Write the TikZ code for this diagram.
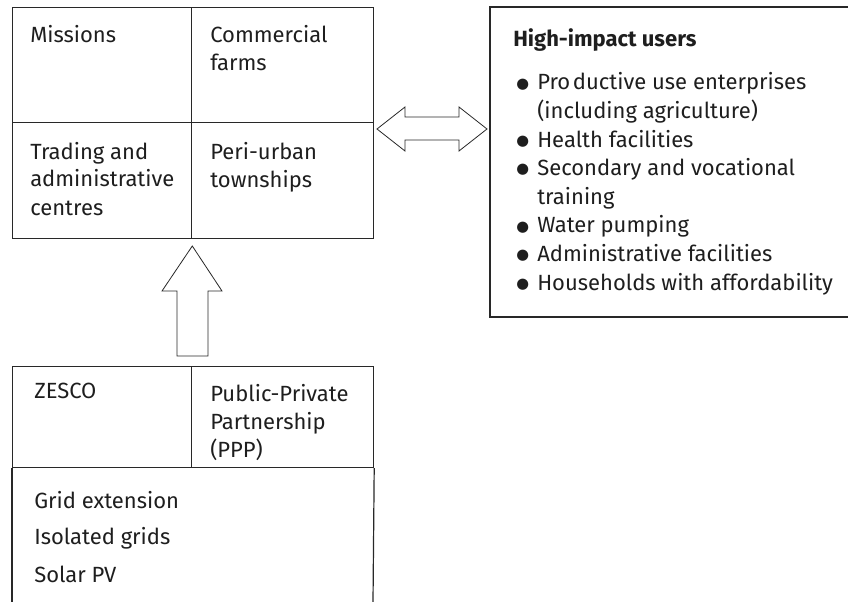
\documentclass[tikz,border=0pt]{standalone}
\usepackage{fontspec}
\setmainfont{Fira Sans}
\newfontfamily\dotfont{DejaVu Sans}
\usepackage{xcolor}
\usetikzlibrary{positioning, calc}
\definecolor{ink}{RGB}{30,30,30}
\definecolor{rulegrey}{RGB}{40,40,40}
\newcommand{\bul}{\makebox[15.75pt][l]{\raisebox{1.3pt}{\dotfont\fontsize{11}{11}\selectfont ●}}}
\begin{document}
\begin{tikzpicture}[
    x=0.75pt, y=-0.75pt,
    cell/.style={draw=rulegrey, line width=0.9pt, anchor=north west, inner sep=0pt},
    txt/.style={anchor=base west, inner sep=0pt, align=left, text=ink,
                font=\fontsize{16.5}{21}\selectfont},
    hdr/.style={txt, font=\fontsize{16.5}{21}\selectfont\bfseries},
    lst/.style={txt, font=\fontsize{16.5}{21.45}\selectfont},
    blk/.style={draw=rulegrey, line width=0.6pt, fill=white, line join=miter},
    rl/.style={draw=rulegrey, line width=0.9pt}
  ]
  \useasboundingbox (0,0) rectangle (848,602);
  % ---------------- settlements ----------------
  \node[cell, minimum width=179*0.75pt, minimum height=115*0.75pt] (mis) at (12,7) {};
  \node[cell, minimum width=182*0.75pt, minimum height=115*0.75pt] (farm) at (191,7) {};
  \node[cell, minimum width=179*0.75pt, minimum height=116*0.75pt] (trad) at (12,122) {};
  \node[cell, minimum width=182*0.75pt, minimum height=116*0.75pt] (peri) at (191,122) {};
  \node[txt] (tmis) at (30,43) {Missions};
  \node[txt] (tfarm) at (210,71) {Commercial\\farms};
  \node[txt] (ttrad) at (30,215) {Trading and\\administrative\\centres};
  \node[txt] (tperi) at (210,188) {Peri-urban\\townships};

  % ---------------- users ----------------
  \draw[rl] (848,7) -- (490,7) -- (490,317) -- (848,317);
  \node[hdr] (hu) at (513,47) {High-impact users};
  \node[lst] (users) at (516,290) {%
    \bul Pro\hspace{0.12em}ductive use enterprises\\
    \hspace*{15.75pt}(including agriculture)\\
    \bul Health facilities\\
    \bul Secondary and vocational\\
    \hspace*{15.75pt}training\\
    \bul Water pumping\\
    \bul Administrative facilities\\
    \bul Households with affordability};

  % ---------------- providers ----------------
  \node[cell, minimum width=179*0.75pt, minimum height=101*0.75pt] (zes) at (12,366) {};
  \node[cell, minimum width=182*0.75pt, minimum height=101*0.75pt] (ppp) at (191,366) {};
  \draw[rl] (zes.south west) -- (12,602);
  \draw[rl] (ppp.south east) -- (373,602);
  \node[txt] (tzes) at (34,398) {ZESCO};
  \node[txt] (tppp) at (210,457) {Public-Private\\Partnership\\(PPP)};
  \node[txt] (tgrid) at (34,508) {Grid extension};
  \node[txt] (tiso) at (34,544) {Isolated grids};
  \node[txt] (tpv) at (34,582) {Solar PV};

  % ---------------- block arrows ----------------
  \coordinate (dl) at (377,129);
  \draw[blk] (dl) -- ++(28,-22) -- ++(0,10) -- ++(54,0) -- ++(0,-10) -- ++(28,22)
    -- ++(-28,22) -- ++(0,-11) -- ++(-54,0) -- ++(0,11) -- cycle;
  \coordinate (up) at (192.3,246);
  \draw[blk] (up) -- ++(29.7,45) -- ++(-14,0) -- ++(0,65) -- ++(-31,0) -- ++(0,-65)
    -- ++(-15,0) -- cycle;
\end{tikzpicture}
\end{document}
